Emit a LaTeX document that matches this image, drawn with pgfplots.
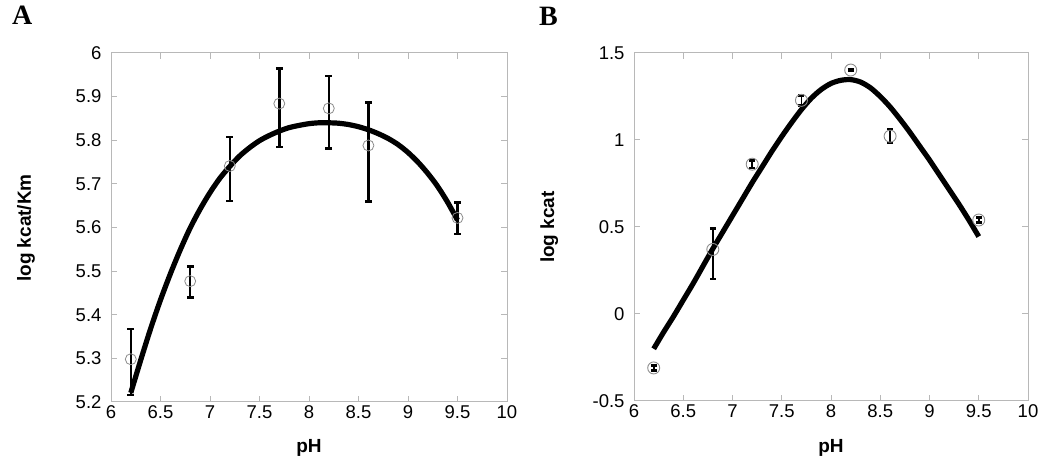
\documentclass[border=0pt]{standalone}
\usepackage{fontspec}
\setmainfont{Liberation Sans}
\newfontfamily\panelfont{Liberation Serif}
\usepackage{pgfplots}
\usepackage{pgfplotstable}
\pgfplotsset{compat=1.18}

\pgfplotstableread{
x y ep em
6.2 5.298 0.069 0.082
6.8 5.477 0.034 0.037
7.2 5.741 0.066 0.080
7.7 5.884 0.080 0.099
8.2 5.873 0.074 0.092
8.6 5.788 0.098 0.128
9.5 5.622 0.035 0.037
}\dataA

\pgfplotstableread{
x y
6.2 5.221
6.3 5.296
6.4 5.368
6.5 5.434
6.6 5.494
6.7 5.549
6.8 5.599
6.9 5.642
7.0 5.680
7.1 5.713
7.2 5.740
7.3 5.764
7.4 5.783
7.5 5.799
7.6 5.811
7.7 5.821
7.8 5.829
7.9 5.834
8.0 5.838
8.1 5.840
8.2 5.840
8.3 5.839
8.4 5.836
8.5 5.831
8.6 5.824
8.7 5.815
8.8 5.804
8.9 5.790
9.0 5.772
9.1 5.750
9.2 5.724
9.3 5.694
9.4 5.658
9.5 5.617
}\fitA

\pgfplotstableread{
x y ep em
6.2 -0.310 0.015 0.015
6.8 0.371 0.121 0.170
7.2 0.861 0.022 0.022
7.7 1.228 0.029 0.029
8.2 1.402 0.005 0.005
8.6 1.022 0.040 0.040
9.5 0.540 0.014 0.014
}\dataB

\pgfplotstableread{
x y
6.2 -0.200
6.3 -0.105
6.4 -0.015
6.5 0.080
6.6 0.175
6.7 0.275
6.8 0.375
6.9 0.470
7.0 0.565
7.1 0.660
7.2 0.755
7.3 0.845
7.4 0.935
7.5 1.020
7.6 1.100
7.7 1.175
7.8 1.240
7.9 1.290
8.0 1.325
8.1 1.343
8.2 1.347
8.3 1.333
8.4 1.300
8.5 1.250
8.6 1.190
8.7 1.120
8.8 1.045
8.9 0.965
9.0 0.885
9.1 0.800
9.2 0.715
9.3 0.630
9.4 0.540
9.5 0.445
}\fitB

\pgfplotsset{
  myaxis/.style={
    scale only axis,
    anchor=south west,
    xmin=6, xmax=10,
    xtick={6,6.5,7,7.5,8,8.5,9,9.5,10},
    tick align=inside,
    major tick length=6pt,
    axis line style={black!28, line width=1pt},
    tick style={black!28, line width=1pt},
    /pgf/number format/assume math mode=true,
    ticklabel style={font=\fontsize{18.5}{20}\selectfont},
    yticklabel style={xshift=-6pt},
  },
}

\begin{document}
\begin{tikzpicture}
\useasboundingbox (0pt,0pt) rectangle (1050pt,471pt);

% Panel A
\begin{axis}[myaxis,
  at={(111pt,69pt)}, width=396pt, height=349pt,
  ymin=5.2, ymax=6,
  ytick={5.2,5.3,5.4,5.5,5.6,5.7,5.8,5.9,6},
]
\addplot[only marks, mark=o, mark size=5.5pt, draw=black!45, mark options={line width=0.8pt}]
  table[x=x,y=y] {\dataA};
\addplot[draw=none, mark=none,
  error bars/.cd, y dir=both, y explicit,
  error bar style={draw=black, line width=2.5pt},
  error mark options={rotate=90, draw=black, line width=2.5pt, mark size=3.4pt}]
  table[x=x,y=y,y error plus=ep,y error minus=em] {\dataA};
\addplot[black, line width=5.2pt, smooth] table[x=x,y=y] {\fitA};
\end{axis}

% Panel B
\begin{axis}[myaxis,
  at={(634pt,70pt)}, width=394pt, height=348pt,
  ymin=-0.5, ymax=1.5,
  ytick={-0.5,0,0.5,1,1.5},
]
\addplot[only marks, mark=o, mark size=6pt, draw=black!45, mark options={line width=0.9pt}]
  table[x=x,y=y] {\dataB};
\addplot[draw=none, mark=none,
  error bars/.cd, y dir=both, y explicit,
  error bar style={draw=black, line width=1.8pt},
  error mark options={rotate=90, draw=black, line width=2.5pt, mark size=3pt}]
  table[x=x,y=y,y error plus=ep,y error minus=em] {\dataB};
\addplot[black, line width=5.2pt, smooth] table[x=x,y=y] {\fitB};
\end{axis}

% labels
\node[rotate=90, anchor=base, inner sep=0, font=\fontsize{19}{21}\selectfont\bfseries] at (31pt,243pt) {log kcat/Km};
\node[anchor=base, inner sep=0, font=\fontsize{19}{21}\selectfont\bfseries] at (309pt,18pt) {pH};
\node[rotate=90, anchor=base, inner sep=0, font=\fontsize{19}{21}\selectfont\bfseries] at (554pt,244pt) {log kcat};
\node[anchor=base, inner sep=0, font=\fontsize{19}{21}\selectfont\bfseries] at (831pt,18pt) {pH};
\node[anchor=base west, inner sep=0, font=\fontsize{28}{30}\panelfont\bfseries] at (12pt,446pt) {A};
\node[anchor=base west, inner sep=0, font=\fontsize{28}{30}\panelfont\bfseries] at (539pt,445pt) {B};
\end{tikzpicture}
\end{document}
